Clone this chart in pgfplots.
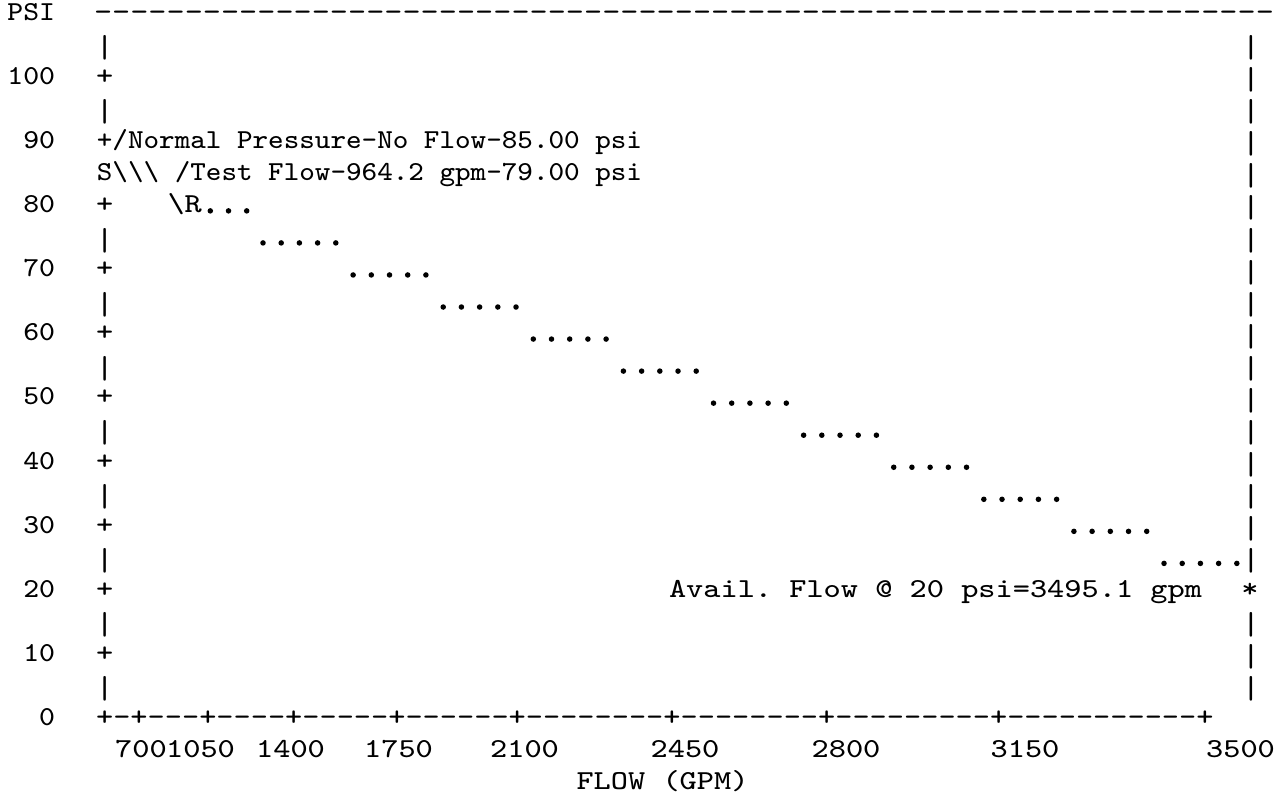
\documentclass[border=0pt]{standalone}
\usepackage{pgfplots}
\pgfplotsset{compat=1.18}
\usepackage{graphicx}

% typewriter text, 1 px of the reference = 0.1 mm
\newcommand{\tf}{\fontsize{7.8}{9}\selectfont\ttfamily\frenchspacing}
\newcommand{\sx}[2]{\scalebox{#1}[1]{\tf #2}}
\newcommand{\vb}{\scalebox{1.181}[1.16]{\tf|}}
\newcommand{\D}[1]{\foreach\i in {1,...,#1}{\mbox{-}}}
\tikzset{
  tw/.style={inner sep=0pt, outer sep=0pt, anchor=base west, yshift=-0.84mm},
  tc/.style={inner sep=0pt, outer sep=0pt, anchor=base, yshift=-0.84mm},
  te/.style={inner sep=0pt, outer sep=0pt, anchor=base east, yshift=-0.84mm},
  tb/.style={inner sep=0pt, outer sep=0pt, anchor=center, yshift=-0.4mm},
}

\begin{document}
\begin{tikzpicture}
\begin{axis}[
    scale only axis,
    width=12.8cm, height=7.99cm,
    xmin=0, xmax=1280,
    ymin=-12.79, ymax=111.87,
    hide axis, clip=false,
]
% falling line of dots (x: column position, y: psi row)
\addplot[only marks, mark=*, mark size=0.2mm, black,
    mark options={yshift=-0.66mm}] coordinates {
    (210.3,80) (228.5,80) (246.7,80)
    (263.0,75) (281.2,75) (299.4,75) (317.6,75) (335.8,75)
    (353.1,70) (371.3,70) (389.5,70) (407.7,70) (425.9,70)
    (443.2,65) (461.4,65) (479.6,65) (497.8,65) (516.0,65)
    (533.3,60) (551.5,60) (569.7,60) (587.9,60) (606.1,60)
    (623.4,55) (641.6,55) (659.8,55) (678.0,55) (696.2,55)
    (713.5,50) (731.7,50) (749.9,50) (768.1,50) (786.3,50)
    (803.6,45) (821.8,45) (840.0,45) (858.2,45) (876.4,45)
    (893.7,40) (911.9,40) (930.1,40) (948.3,40) (966.5,40)
    (983.8,35) (1002.0,35) (1020.2,35) (1038.4,35) (1056.6,35)
    (1073.9,30) (1092.1,30) (1110.3,30) (1128.5,30) (1146.7,30)
    (1164.0,25) (1182.2,25) (1200.4,25) (1218.6,25) (1236.8,25)
};

% top line
\node[te] at (axis cs:55,110) {\sx{1.09}{PSI}};
\node[tw] at (axis cs:94,110) {\sx{1.247}{\D{65}}};

% y labels
\node[te] at (axis cs:55,100) {\sx{1.09}{100}};
\node[te] at (axis cs:55,90) {\sx{1.09}{90}};
\node[te] at (axis cs:55,80) {\sx{1.09}{80}};
\node[te] at (axis cs:55,70) {\sx{1.09}{70}};
\node[te] at (axis cs:55,60) {\sx{1.09}{60}};
\node[te] at (axis cs:55,50) {\sx{1.09}{50}};
\node[te] at (axis cs:55,40) {\sx{1.09}{40}};
\node[te] at (axis cs:55,30) {\sx{1.09}{30}};
\node[te] at (axis cs:55,20) {\sx{1.09}{20}};
\node[te] at (axis cs:55,10) {\sx{1.09}{10}};
\node[te] at (axis cs:55,0) {\sx{1.09}{0}};

% left border
\node[tb] at (axis cs:104.6,105) {\vb};
\node[tc] at (axis cs:104.6,100) {\sx{1.181}{+}};
\node[tb] at (axis cs:104.6,95) {\vb};
\node[tc] at (axis cs:104.6,80) {\sx{1.181}{+}};
\node[tb] at (axis cs:104.6,75) {\vb};
\node[tc] at (axis cs:104.6,70) {\sx{1.181}{+}};
\node[tb] at (axis cs:104.6,65) {\vb};
\node[tc] at (axis cs:104.6,60) {\sx{1.181}{+}};
\node[tb] at (axis cs:104.6,55) {\vb};
\node[tc] at (axis cs:104.6,50) {\sx{1.181}{+}};
\node[tb] at (axis cs:104.6,45) {\vb};
\node[tc] at (axis cs:104.6,40) {\sx{1.181}{+}};
\node[tb] at (axis cs:104.6,35) {\vb};
\node[tc] at (axis cs:104.6,30) {\sx{1.181}{+}};
\node[tb] at (axis cs:104.6,25) {\vb};
\node[tc] at (axis cs:104.6,20) {\sx{1.181}{+}};
\node[tb] at (axis cs:104.6,15) {\vb};
\node[tc] at (axis cs:104.6,10) {\sx{1.181}{+}};
\node[tb] at (axis cs:104.6,5) {\vb};

% right border
\node[tb] at (axis cs:1251,105) {\vb};
\node[tb] at (axis cs:1251,100) {\vb};
\node[tb] at (axis cs:1251,95) {\vb};
\node[tb] at (axis cs:1251,90) {\vb};
\node[tb] at (axis cs:1251,85) {\vb};
\node[tb] at (axis cs:1251,80) {\vb};
\node[tb] at (axis cs:1251,75) {\vb};
\node[tb] at (axis cs:1251,70) {\vb};
\node[tb] at (axis cs:1251,65) {\vb};
\node[tb] at (axis cs:1251,60) {\vb};
\node[tb] at (axis cs:1251,55) {\vb};
\node[tb] at (axis cs:1251,50) {\vb};
\node[tb] at (axis cs:1251,45) {\vb};
\node[tb] at (axis cs:1251,40) {\vb};
\node[tb] at (axis cs:1251,35) {\vb};
\node[tb] at (axis cs:1251,30) {\vb};
\node[tb] at (axis cs:1251,25) {\vb};
\node[tc] at (axis cs:1250,20) {\sx{1.181}{*}};
\node[tb] at (axis cs:1251,15) {\vb};
\node[tb] at (axis cs:1251,10) {\vb};
\node[tb] at (axis cs:1251,5) {\vb};

% annotations
\node[tw] at (axis cs:96.9,90) {\sx{1.070}{+/Normal Pressure-No Flow-85.00 psi}};
\node[tw] at (axis cs:96.9,85) {\sx{1.070}{S\textbackslash\textbackslash\textbackslash{} /Test Flow-964.2 gpm-79.00 psi}};
\node[tw] at (axis cs:167.5,80) {\sx{1.181}{\textbackslash R}};
\node[tw] at (axis cs:669,20) {\sx{1.181}{Avail. Flow @ 20 psi=3495.1 gpm}};

% bottom axis
\node[tw] at (axis cs:96.1,0) {\sx{1.181}{+\D{1}+\D{3}+\D{4}+\D{5}+\D{6}+\D{8}+\D{8}+\D{9}+\D{11}+}};
\node[tc] at (axis cs:141,-5) {\sx{1.181}{700}};
\node[tc] at (axis cs:200.5,-5) {\sx{1.181}{1050}};
\node[tc] at (axis cs:290.5,-5) {\sx{1.181}{1400}};
\node[tc] at (axis cs:398.5,-5) {\sx{1.181}{1750}};
\node[tc] at (axis cs:524.5,-5) {\sx{1.181}{2100}};
\node[tc] at (axis cs:685,-5) {\sx{1.181}{2450}};
\node[tc] at (axis cs:846,-5) {\sx{1.181}{2800}};
\node[tc] at (axis cs:1025,-5) {\sx{1.181}{3150}};
\node[tc] at (axis cs:1240.5,-5) {\sx{1.181}{3500}};
\node[tc] at (axis cs:662.5,-10) {\sx{1.181}{FLOW (GPM)}};
\end{axis}
\pgfresetboundingbox
\path[use as bounding box] (current axis.south west) rectangle (current axis.north east);
\end{tikzpicture}
\end{document}
